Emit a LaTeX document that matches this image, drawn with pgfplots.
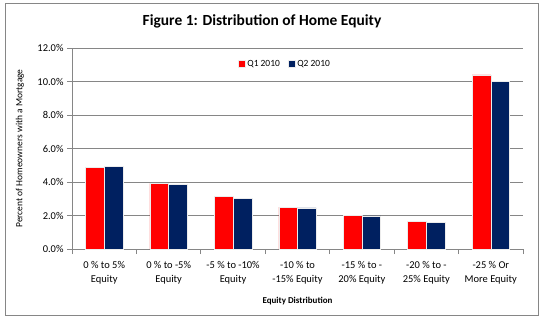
\documentclass[border=0pt]{standalone}
\usepackage{fontspec}
\setmainfont{Carlito}
\usepackage{pgfplots}
\pgfplotsset{compat=1.18}
\definecolor{qred}{RGB}{255,0,0}
\definecolor{qblue}{RGB}{0,32,96}
\definecolor{gridgray}{RGB}{134,134,134}
\begin{document}
\begin{tikzpicture}[x=1bp,y=1bp]
\path[use as bounding box] (0,0) rectangle (539,321);
\draw[gridgray, line width=1bp] (5.5,5.5) rectangle (538,317.5);
\node[font=\bfseries\fontsize{15.5}{18}\selectfont] at (262,300) {Figure 1: Distribution of Home Equity};
\begin{axis}[
  at={(72bp,72bp)}, anchor=south west,
  scale only axis, width=451bp, height=201bp,
  ybar=0pt, bar width=18.7bp,
  xmin=-0.5, xmax=6.5, ymin=0, ymax=12,
  enlarge x limits=false,
  axis x line*=bottom, axis y line*=left,
  axis line style={gridgray, line width=0.8bp, -},
  tick align=outside,
  xtick={0,1,2,3,4,5,6},
  xticklabels={{0 \% to 5\%\\Equity},{0 \% to -5\%\\Equity},{-5 \% to -10\%\\Equity},{-10 \% to\\-15\% Equity},{-15 \% to -\\20\% Equity},{-20 \% to -\\25\% Equity},{-25 \% Or\\More Equity}},
  xticklabel style={align=center, font=\fontsize{10.5}{14}\selectfont, yshift=-4bp},
  major x tick style={draw=none},
  minor xtick={-0.5,0.5,1.5,2.5,3.5,4.5,5.5,6.5},
  minor x tick style={gridgray, line width=0.8bp},
  minor tick length=5bp,
  ytick={0,2,4,6,8,10,12},
  yticklabels={0.0\%,2.0\%,4.0\%,6.0\%,8.0\%,10.0\%,12.0\%},
  yticklabel style={font=\fontsize{10.5}{12}\selectfont},
  y tick style={gridgray, line width=0.8bp},
  major tick length=5bp,
  ymajorgrids, grid style={gridgray, line width=0.8bp},
  ylabel={Percent of Homeowners with a Mortgage},
  ylabel style={at={(axis description cs:-0.1153,0.5)}, anchor=center, font=\fontsize{9.5}{11}\selectfont},
  xlabel={Equity Distribution},
  xlabel style={at={(axis description cs:0.5,-0.259)}, anchor=center, font=\bfseries\fontsize{9}{11}\selectfont},
  legend style={at={(0.472,0.92)}, anchor=center, draw=none, fill=none, legend columns=2, font=\fontsize{9.5}{11}\selectfont, /tikz/every even column/.append style={column sep=6bp}},
  legend image code/.code={\fill[#1] (0bp,-3.5bp) rectangle (7bp,3.5bp);},
]
\addplot[fill=qred, draw=white!85!gray, line width=0.5bp] coordinates {(0,4.88) (1,3.92) (2,3.12) (3,2.50) (4,2.01) (5,1.65) (6,10.40)};
\addplot[fill=qblue, draw=white!85!gray, line width=0.5bp] coordinates {(0,4.93) (1,3.88) (2,3.04) (3,2.45) (4,1.98) (5,1.58) (6,10.02)};
\legend{Q1 2010, Q2 2010}
\end{axis}
\end{tikzpicture}
\end{document}
